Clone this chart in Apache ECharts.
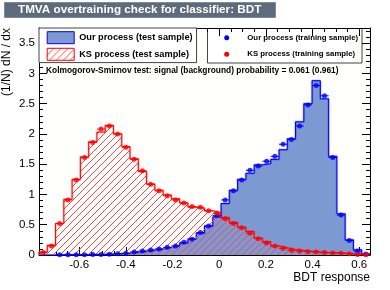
<!DOCTYPE html>
<html><head><meta charset="utf-8">
<script src="https://cdn.jsdelivr.net/npm/echarts@6/dist/echarts.min.js"></script>
<style>html,body{margin:0;padding:0;background:#fff}#c{width:390px;height:290px}</style>
</head><body><div id="c"></div>
<script>
// ---- data ----
const xMin = -0.772, xMax = 0.646, nBins = 40;
const xTickLabels = ['-0.6', '-0.4', '-0.2', '0', '0.2', '0.4', '0.6'];
const yTickLabels = ['0', '0.5', '1', '1.5', '2', '2.5', '3', '3.5'];
const sigTest = [0, 0, 0.003, 0.004, 0.005, 0.006, 0.008, 0.01, 0.015, 0.02, 0.03, 0.045, 0.06, 0.08, 0.10, 0.125, 0.155, 0.20, 0.27, 0.36, 0.48, 0.63, 0.85, 1.07, 1.25, 1.35, 1.49, 1.51, 1.58, 1.74, 1.92, 2.20, 2.50, 2.88, 2.58, 1.63, 0.68, 0.25, 0.085, 0.015];
const bkgTest = [0.05, 0.16, 0.52, 0.92, 1.25, 1.62, 1.87, 2.03, 2.14, 2.00, 1.79, 1.59, 1.38, 1.17, 1.07, 0.99, 0.93, 0.86, 0.79, 0.77, 0.73, 0.70, 0.62, 0.54, 0.46, 0.39, 0.28, 0.22, 0.15, 0.12, 0.09, 0.075, 0.06, 0.05, 0.04, 0.035, 0.03, 0.02, 0.015, 0.005];
const sigTrain = [null, null, 0.003, 0.004, 0.004, 0.006, 0.007, 0.01, 0.013, 0.02, 0.028, 0.05, 0.066, 0.083, 0.10, 0.126, 0.15, 0.21, 0.26, 0.37, 0.48, 0.65, 0.91, 1.06, 1.24, 1.40, 1.47, 1.55, 1.63, 1.83, 1.91, 2.13, 2.48, 2.80, 2.63, 1.61, 0.66, 0.24, 0.066, 0.016];
const bkgTrain = [0.04, 0.15, 0.52, 0.91, 1.24, 1.61, 1.86, 2.08, 2.13, 2.00, 1.78, 1.58, 1.39, 1.17, 1.06, 0.98, 0.91, 0.86, 0.80, 0.79, 0.73, 0.69, 0.60, 0.52, 0.45, 0.36, 0.27, 0.20, 0.15, 0.11, 0.08, 0.065, 0.055, 0.05, 0.04, 0.035, 0.03, 0.02, 0.01, 0.005];
const names = {
  sigTest: 'Our process (test sample)',
  bkgTest: 'KS process (test sample)',
  sigTrain: 'Our process (training sample)',
  bkgTrain: 'KS process (training sample)'
};
const titleText = 'TMVA overtraining check for classifier: BDT';
const ksText = 'Kolmogorov-Smirnov test: signal (background) probability = 0.061 (0.961)';

// ---- helpers ----
const bw = (xMax - xMin) / nBins;
const edge = i => xMin + i * bw;
function stepData(vals) {
  const d = [[xMin, 0]];
  vals.forEach((v, i) => d.push([edge(i), v]));
  d.push([xMax, vals[vals.length - 1]]);
  d.push([xMax, 0]);
  return d;
}
function dotData(vals) {
  const d = [];
  vals.forEach((v, i) => { if (v !== null) d.push([edge(i) + bw / 2, v]); });
  return d;
}
function errData(vals) {
  const d = [];
  vals.forEach((v, i) => { if (v !== null) d.push([edge(i), edge(i + 1), v]); });
  return d;
}
function hatch() {
  const n = 7;
  const c = document.createElement('canvas'); c.width = n; c.height = n;
  const g = c.getContext('2d');
  g.fillStyle = 'rgb(255,70,70)';
  for (let i = 0; i < n; i++) g.fillRect(i, n - 1 - i, 1, 1);
  return c;
}
const hatchArea = { image: hatch(), repeat: 'repeat' };
const hatchIcon = { image: hatch(), repeat: 'repeat' };
const fmt = labels => v => { const s = String(Math.round(v * 100) / 100); return labels.includes(s) ? s : ''; };
function errSeries(vals, color) {
  return {
    type: 'custom', silent: true, z: 4,
    encode: { x: [0, 1], y: 2 },
    data: errData(vals),
    renderItem: (p, api) => {
      const a = api.coord([api.value(0), api.value(2)]);
      const b = api.coord([api.value(1), api.value(2)]);
      return { type: 'line', shape: { x1: a[0], y1: a[1], x2: b[0], y2: b[1] }, style: { stroke: color, lineWidth: 1 } };
    }
  };
}
const FONT = 'Liberation Sans, Arial, Helvetica, sans-serif';

const chart = echarts.init(document.getElementById('c'), null, { renderer: 'canvas' });
const tickCommon = {
  axisLine: { show: true, onZero: false, lineStyle: { color: '#000', width: 1 } },
  splitLine: { show: false }
};
// right legend box (training samples) drawn as graphic elements
const trainLegend = {
  type: 'group', left: 207, top: 28, z: 50,
  children: [
    { type: 'rect', shape: { x: 0.5, y: 0.5, width: 154.5, height: 34.5 }, style: { fill: '#fff', stroke: '#444', lineWidth: 1 } },
    { type: 'circle', shape: { cx: 19.7, cy: 9.7, r: 2.5 }, style: { fill: '#0000ff' } },
    { type: 'text', x: 40.3, y: 9.7, style: { text: names.sigTrain, fill: '#000', font: 'bold 7.8px ' + FONT, verticalAlign: 'middle', align: 'left' } },
    { type: 'circle', shape: { cx: 19.7, cy: 26.3, r: 2.5 }, style: { fill: '#ff0000' } },
    { type: 'text', x: 40.3, y: 26.3, style: { text: names.bkgTrain, fill: '#000', font: 'bold 7.8px ' + FONT, verticalAlign: 'middle', align: 'left' } }
  ]
};
chart.setOption({
  animation: false,
  backgroundColor: '#fff',
  graphic: [trainLegend],
  title: [
    { text: titleText, left: 4, top: 2, padding: [2, 14, 2, 14],
      backgroundColor: '#5D6B7D', borderColor: '#7D8B9D', borderWidth: 1,
      textStyle: { color: '#fff', fontWeight: 'bold', fontSize: 11.7, fontFamily: FONT, lineHeight: 12 } },
    { text: ksText, left: 46, top: 67, padding: 0,
      textStyle: { color: '#000', fontWeight: 'bold', fontSize: 8.4, fontFamily: FONT } }
  ],
  grid: { left: 39, right: 20, top: 28, bottom: 35, show: true, backgroundColor: '#fffffd', borderWidth: 0, outerBoundsMode: 'none', containLabel: false },
  legend: [
    { orient: 'vertical', left: 39, top: 28, padding: [1.4, 4, 0, 7.7], itemGap: 0,
      itemWidth: 27, itemHeight: 12, selectedMode: false,
      backgroundColor: '#fff', borderColor: '#444', borderWidth: 1,
      textStyle: { fontFamily: FONT, fontWeight: 'bold', fontSize: 9.2, color: '#000', lineHeight: 16.6 },
      data: [
        { name: names.sigTest, icon: 'rect', itemStyle: { color: '#7d99d1', borderColor: '#0000ee', borderWidth: 1 } },
        { name: names.bkgTest, icon: 'rect', itemStyle: { color: hatchIcon, borderColor: '#ff0000', borderWidth: 1 } }
      ] }
  ],
  xAxis: [
    Object.assign({ type: 'value', min: xMin, max: xMax, splitNumber: 7, position: 'bottom',
      name: 'BDT response', nameLocation: 'end', nameGap: 0, nameMoveOverlap: false,
      nameTextStyle: { align: 'right', verticalAlign: 'top', padding: [17, 0, 0, 0], fontSize: 12, color: '#000', fontFamily: FONT },
      axisTick: { inside: true, length: 8, lineStyle: { color: '#000' } },
      minorTick: { show: true, splitNumber: 4, length: 4, lineStyle: { color: '#000' } },
      axisLabel: { margin: 4, fontSize: 11.5, color: '#000', fontFamily: FONT, formatter: fmt(xTickLabels), showMinLabel: true, showMaxLabel: true }
    }, tickCommon),
    Object.assign({ type: 'value', min: xMin, max: xMax, splitNumber: 7, position: 'top',
      axisTick: { inside: true, length: 8, lineStyle: { color: '#000' } },
      minorTick: { show: true, splitNumber: 4, length: 4, lineStyle: { color: '#000' } },
      axisLabel: { show: false }
    }, tickCommon)
  ],
  yAxis: [
    Object.assign({ type: 'value', min: 0, max: 3.75, interval: 0.5, position: 'left',
      name: '(1/N) dN / dx', nameLocation: 'end', nameGap: 0, nameRotate: 90, nameMoveOverlap: false,
      nameTextStyle: { align: 'right', verticalAlign: 'bottom', padding: [0, 0, 26, 0], fontSize: 12, color: '#000', fontFamily: FONT },
      axisTick: { inside: true, length: 8, lineStyle: { color: '#000' } },
      minorTick: { show: true, splitNumber: 5, length: 4, lineStyle: { color: '#000' } },
      axisLabel: { margin: 4, fontSize: 11.5, color: '#000', fontFamily: FONT, formatter: fmt(yTickLabels), showMaxLabel: false }
    }, tickCommon),
    Object.assign({ type: 'value', min: 0, max: 3.75, interval: 0.5, position: 'right',
      axisTick: { inside: true, length: 8, lineStyle: { color: '#000' } },
      minorTick: { show: true, splitNumber: 5, length: 4, lineStyle: { color: '#000' } },
      axisLabel: { show: false }
    }, tickCommon)
  ],
  series: [
    { name: names.sigTest, type: 'line', step: 'end', data: stepData(sigTest), symbol: 'none', z: 2,
      lineStyle: { color: '#0000ee', width: 1 }, itemStyle: { color: '#7d99d1' },
      areaStyle: { color: '#7d99d1', opacity: 1 } },
    { type: 'line', step: 'end', data: stepData(sigTest), symbol: 'none', z: 2, silent: true,
      lineStyle: { color: 'rgba(0,0,238,0.22)', width: 2.5 } },
    { name: names.bkgTest, type: 'line', step: 'end', data: stepData(bkgTest), symbol: 'none', z: 3,
      lineStyle: { color: '#ff0000', width: 1 }, itemStyle: { color: '#ff0000' },
      areaStyle: { color: hatchArea, opacity: 1 } },
    { type: 'line', step: 'end', data: stepData(bkgTest), symbol: 'none', z: 3, silent: true,
      lineStyle: { color: 'rgba(255,0,0,0.22)', width: 2.5 } },
    errSeries(sigTrain, '#0000ff'),
    errSeries(bkgTrain, '#ff0000'),
    { name: names.sigTrain, type: 'scatter', data: dotData(sigTrain), symbol: 'circle', symbolSize: 5, z: 5,
      itemStyle: { color: '#0000ff' } },
    { name: names.bkgTrain, type: 'scatter', data: dotData(bkgTrain), symbol: 'circle', symbolSize: 5, z: 5,
      itemStyle: { color: '#ff0000' } }
  ]
});
</script>
</body></html>
